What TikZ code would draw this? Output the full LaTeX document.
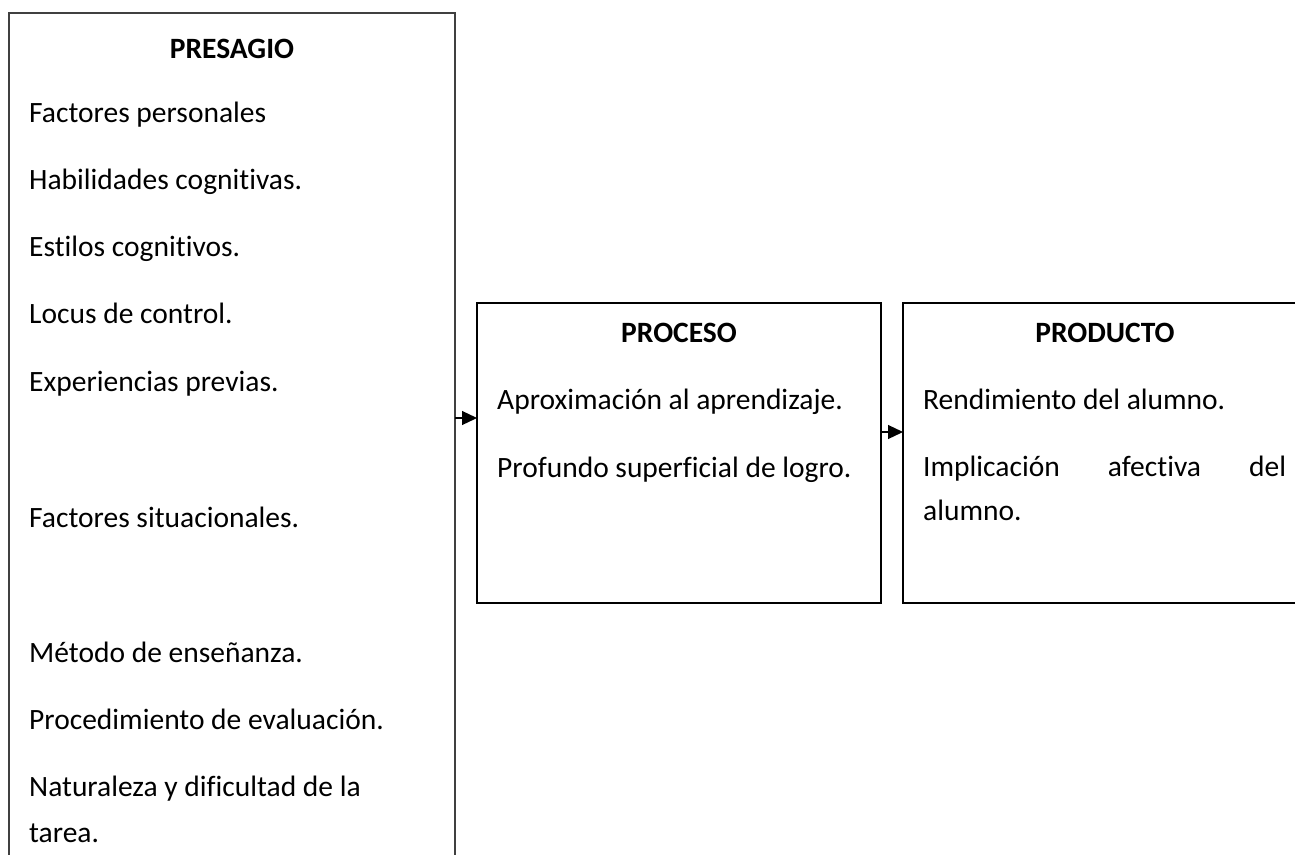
\documentclass[tikz,border=0pt]{standalone}
\usepackage{fontspec}
\setmainfont{Carlito}[Ligatures={NoCommon}]
\usetikzlibrary{arrows.meta}
\begin{document}
\begin{tikzpicture}[x=1pt,y=-1pt,
  box/.style={draw=black, line width=1.6pt, rectangle, inner sep=0pt, outer sep=0pt, anchor=north west},
  leftbox/.style={box, draw=black!75, line width=1.3pt},
  txt/.style={anchor=base west, inner sep=0pt, font=\fontsize{29.5}{35}\selectfont},
  head/.style={anchor=base, inner sep=0pt, font=\fontsize{29.5}{35}\selectfont\bfseries},
  conn/.style={line width=1.2pt, -{Triangle[length=15pt,width=14pt]}}]
\useasboundingbox (0,0) rectangle (1295,854);
\clip (0,0) rectangle (1295,854);
% boxes
\node[leftbox, minimum width=446pt, minimum height=900pt] (presagio) at (9,13) {};
\node[box, minimum width=404pt, minimum height=300pt] (proceso) at (477,303) {};
\node[box, minimum width=404pt, minimum height=300pt] (producto) at (903,303) {};
% connectors
\coordinate (ya) at (0,418);
\coordinate (yb) at (0,432);
\draw[conn] (presagio.east |- ya) -- (proceso.west |- ya);
\draw[conn] (proceso.east |- yb) -- (producto.west |- yb);
% PRESAGIO text
\node[head] (hpre) at (232,58) {PRESAGIO};
\node[txt] (t1) at (29,122) {Factores personales};
\node[txt] (t2) at (29,189) {Habilidades cognitivas.};
\node[txt] (t3) at (29,256) {Estilos cognitivos.};
\node[txt] (t4) at (29,323) {Locus de control.};
\node[txt] (t5) at (29,391) {Experiencias previas.};
\node[txt] (t6) at (29,527) {Factores situacionales.};
\node[txt] (t7) at (29,662) {Método de enseñanza.};
\node[txt] (t8) at (29,729) {Procedimiento de evaluación.};
\node[txt] (t9) at (29,796) {Naturaleza y dificultad de la};
\node[txt] (t10) at (29,842) {tarea.};
% PROCESO text
\node[head] (hpro) at (679,342) {PROCESO};
\node[txt] (p1) at (497,409) {Aproximación al aprendizaje.};
\node[txt] (p2) at (497,477) {Profundo superficial de logro.};
% PRODUCTO text
\node[head] (hprod) at (1105,342) {PRODUCTO};
\node[txt] (q1) at (923,409) {Rendimiento del alumno.};
\node[txt] (q2) at (923,476) {\hbox to 363pt{Implicación\hfill afectiva\hfill del}};
\node[txt] (q3) at (923,520) {alumno.};
\end{tikzpicture}
\end{document}
